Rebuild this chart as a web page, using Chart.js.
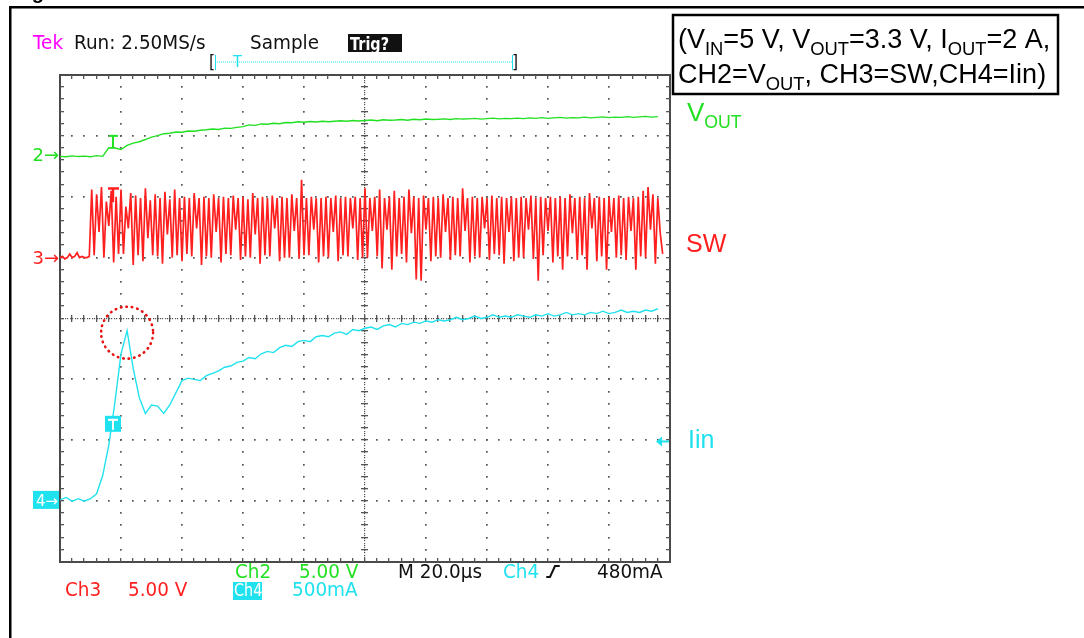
<!DOCTYPE html>
<html>
<head>
<meta charset="utf-8">
<script src="https://cdn.jsdelivr.net/npm/chart.js@4.4.1/dist/chart.umd.min.js"></script>
<style>
  body { margin: 0; background: #fff; }
  #wrap { width: 1084px; height: 638px; }
</style>
</head>
<body>
<div id="wrap"><canvas id="scope" width="1084" height="638"></canvas></div>
<script>
// time base: 20 us/div, 10 div across the screen -> 0..200 us
// Vout (V) and Iin (A) read every 2 us, SW (V) every 0.8 us
const slowStep = 2;
const swStep = 0.8;

const vOut = [
  -0.08, -0.12, -0.04, -0.10, -0.06, -0.12, -0.02, -0.08, 0.62, 0.60,
  0.48, 0.82, 1.00, 1.12, 1.30, 1.50, 1.62, 1.78, 1.82, 1.92,
  1.90, 2.00, 1.98, 2.06, 2.10, 2.16, 2.12, 2.24, 2.22, 2.30,
  2.36, 2.50, 2.46, 2.58, 2.56, 2.64, 2.60, 2.70, 2.68, 2.76,
  2.72, 2.78, 2.74, 2.80, 2.76, 2.80, 2.84, 2.80, 2.86, 2.82,
  2.86, 2.90, 2.84, 2.92, 2.88, 2.90, 2.94, 2.88, 2.96, 2.92,
  2.98, 2.94, 2.96, 3.00, 2.94, 3.02, 2.98, 3.00, 3.04, 2.98,
  3.02, 3.06, 3.00, 3.04, 3.02, 3.06, 3.02, 3.08, 3.04, 3.10,
  3.04, 3.08, 3.12, 3.06, 3.10, 3.08, 3.14, 3.08, 3.12, 3.16,
  3.10, 3.14, 3.12, 3.18, 3.12, 3.16, 3.20, 3.14, 3.18
];

const iIn = [
  0.00, 0.02, -0.01, 0.01, -0.01, 0.01, 0.05, 0.20, 0.45, 0.80,
  1.20, 1.39, 1.08, 0.84, 0.71, 0.78, 0.77, 0.71, 0.78, 0.88,
  0.98, 1.00, 0.99, 0.98, 1.02, 1.04, 1.06, 1.09, 1.10, 1.13,
  1.14, 1.17, 1.16, 1.20, 1.22, 1.21, 1.25, 1.27, 1.26, 1.30,
  1.31, 1.30, 1.34, 1.35, 1.34, 1.37, 1.38, 1.36, 1.40, 1.39,
  1.41, 1.42, 1.40, 1.43, 1.44, 1.42, 1.45, 1.44, 1.46, 1.45,
  1.47, 1.46, 1.48, 1.47, 1.48, 1.50, 1.48, 1.49, 1.51, 1.49,
  1.50, 1.52, 1.50, 1.51, 1.50, 1.52, 1.51, 1.50, 1.52, 1.51,
  1.53, 1.51, 1.52, 1.54, 1.52, 1.53, 1.52, 1.54, 1.53, 1.55,
  1.53, 1.54, 1.56, 1.54, 1.55, 1.54, 1.56, 1.55, 1.57
];

const sw = [
  0.0, 0.1, -0.1, 0.0, 0.3, 0.0, 0.1, 0.4, 0.0, 0.1,
  0.0, 0.0, 0.1, 5.6, 0.2, 5.2, 2.1, 5.8, 0.0, 4.6,
  2.6, 5.5, -0.4, 5.0, 0.3, 5.6, 0.3, 4.2, 2.4, 5.3,
  -0.6, 5.1, 0.2, 4.9, -0.3, 5.7, 1.6, 4.7, 0.2, 5.2,
  0.1, 4.9, -0.5, 5.4, 1.9, 4.8, 0.0, 5.6, 0.2, 4.9,
  -0.3, 5.0, 0.3, 4.9, 0.1, 5.3, 2.4, 4.9, -0.6, 5.0,
  0.1, 4.9, 0.0, 5.2, 2.1, 4.9, -0.4, 5.0, 0.3, 4.9,
  0.2, 5.1, 2.3, 4.9, -0.2, 5.0, 0.1, 4.8, 0.0, 5.3,
  1.9, 4.9, -0.5, 5.0, 0.2, 4.9, 0.1, 5.1, 2.4, 4.9,
  -0.3, 5.0, 0.0, 4.9, 0.0, 5.2, 2.2, 4.9, -0.1, 6.4,
  0.2, 4.9, 0.2, 5.0, 2.3, 4.9, -0.4, 4.9, 0.1, 5.0,
  0.0, 4.9, 2.1, 5.1, -0.3, 4.9, 0.2, 5.0, 0.1, 4.9,
  2.4, 5.0, -0.2, 4.9, 0.0, 5.7, 0.0, 4.9, 2.2, 5.0,
  0.1, 5.6, -0.9, 4.9, 2.3, 5.0, -1.0, 5.5, 0.1, 4.9,
  0.3, 5.0, -0.4, 5.6, 2.0, 5.0, -1.8, 4.9, -1.9, 5.1,
  2.3, 4.9, -0.3, 5.0, 0.1, 4.9, 0.0, 5.2, 2.1, 4.9,
  -0.2, 5.0, 0.2, 4.9, 0.1, 5.7, 2.2, 4.9, -0.4, 5.0,
  0.1, 4.9, 0.0, 5.0, 2.4, 4.9, -0.2, 5.1, 0.3, 4.9,
  0.2, 5.0, -0.5, 4.9, 2.1, 5.0, -0.3, 4.9, 0.0, 5.0,
  0.0, 4.9, 2.3, 5.1, -0.1, 4.9, -1.9, 5.0, 0.2, 4.9,
  2.2, 5.0, -0.4, 4.9, 0.1, 5.0, -1.0, 4.9, 0.1, 5.2,
  2.0, 4.9, -0.2, 5.0, 0.2, 4.9, -1.0, 5.3, 2.4, 4.9,
  -0.3, 5.0, 0.1, 4.9, -1.0, 5.0, 2.1, 4.9, 0.0, 5.1,
  0.2, 4.9, -0.2, 5.0, 2.2, 4.9, -1.0, 5.0, 0.1, 5.5,
  0.0, 5.8, 2.3, 5.2, -0.5, 4.9, 2.0, 0.3
];

// channel settings: screen offset (div) and units per div
const ch2 = { offset: 6.68, perDiv: 5 };    // Vout, 5.00 V
const ch3 = { offset: 5.0, perDiv: 5 };     // SW, 5.00 V
const ch4 = { offset: 1.02, perDiv: 0.5 };  // Iin, 500 mA
const trigLevel = 0.48;   // A
const trigTime = 17.4;    // us

const green = '#22e022';
const red = '#ff1f1f';
const cyan = '#20e2ee';

function toPoints(vals, step, ch) {
  return vals.map((v, i) => ({ x: i * step, y: ch.offset + v / ch.perDiv }));
}

const graticule = {
  id: 'graticule',
  beforeDatasetsDraw(chart) {
    const { ctx, chartArea: a, scales: { x, y } } = chart;
    ctx.save();
    ctx.fillStyle = '#555';
    // dotted major lines
    for (let i = 1; i < 10; i++) {
      if (i === 5) continue;
      const px = Math.round(x.getPixelForValue(i * 20));
      for (let j = 1; j < 40; j++) {
        ctx.fillRect(px - 1, Math.round(y.getPixelForValue(j / 5)) - 1, 1.7, 1.7);
      }
    }
    for (let k = 1; k < 8; k++) {
      if (k === 4) continue;
      const py = Math.round(y.getPixelForValue(k));
      for (let j = 1; j < 50; j++) {
        ctx.fillRect(Math.round(x.getPixelForValue(j * 4)) - 1, py - 1, 1.7, 1.7);
      }
    }
    // centre cross with fine ticks
    const cx = Math.round(x.getPixelForValue(100));
    const cy = Math.round(y.getPixelForValue(4));
    for (let j = 1; j < 200; j++) {
      const py = Math.round(y.getPixelForValue(j / 25));
      ctx.fillRect(cx - 1, py, 1.2, 1.2);
    }
    for (let j = 1; j < 250; j++) {
      const px = Math.round(x.getPixelForValue(j * 0.8));
      ctx.fillRect(px, cy - 1, 1.2, 1.2);
    }
    for (let j = 1; j < 40; j++) {
      const py = Math.round(y.getPixelForValue(j / 5));
      ctx.fillRect(cx - 4, py - 1, 7, 1.3);
    }
    for (let j = 1; j < 50; j++) {
      const px = Math.round(x.getPixelForValue(j * 4));
      ctx.fillRect(px - 1, cy - 4, 1.3, 7);
    }
    // frame with inner ticks
    ctx.strokeStyle = '#4a4a4a';
    ctx.lineWidth = 2;
    ctx.strokeRect(a.left, a.top, a.right - a.left, a.bottom - a.top);
    for (let j = 1; j < 50; j++) {
      const px = Math.round(x.getPixelForValue(j * 4));
      ctx.fillRect(px - 1, a.top, 1.3, 4);
      ctx.fillRect(px - 1, a.bottom - 4, 1.3, 4);
    }
    for (let j = 1; j < 40; j++) {
      const py = Math.round(y.getPixelForValue(j / 5));
      ctx.fillRect(a.left, py - 1, 4, 1.3);
      ctx.fillRect(a.right - 4, py - 1, 4, 1.3);
    }
    ctx.restore();
  }
};

function richText(ctx, x, y, parts, size, color) {
  let cx = x;
  ctx.fillStyle = color;
  ctx.textAlign = 'left';
  ctx.textBaseline = 'alphabetic';
  for (const [txt, sub] of parts) {
    const s = sub ? size * 0.68 : size;
    ctx.font = s + 'px "Liberation Sans", Arial, sans-serif';
    ctx.fillText(txt, cx, sub ? y + size * 0.25 : y);
    cx += ctx.measureText(txt).width;
  }
}

// scope screen font: plain DejaVu squeezed a little
function scopeText(ctx, txt, x, y, size, color, squeeze, weight) {
  ctx.save();
  ctx.font = (weight || '') + ' ' + size + 'px "DejaVu Sans", sans-serif';
  ctx.fillStyle = color;
  ctx.textAlign = 'left';
  ctx.translate(x, y);
  ctx.scale(squeeze || 0.92, 1);
  ctx.fillText(txt, 0, 0);
  ctx.restore();
}

const overlay = {
  id: 'overlay',
  afterDraw(chart) {
    const { ctx, scales: { x, y } } = chart;
    ctx.save();

    // page frame and cut caption
    ctx.fillStyle = '#000';
    ctx.font = 'bold 20px "Liberation Sans", Arial, sans-serif';
    ctx.fillText('Figure', 14, -1);
    ctx.fillRect(9, 6, 1084, 2.5);
    ctx.fillRect(9, 6, 2.5, 638);

    // header
    ctx.textBaseline = 'alphabetic';
    scopeText(ctx, 'Tek', 33, 49, 20, '#ff00ff');
    scopeText(ctx, 'Run: 2.50MS/s', 74, 49, 20, '#111');
    scopeText(ctx, 'Sample', 250, 49, 20, '#111');
    ctx.fillStyle = '#111';
    ctx.fillRect(348, 34, 54, 18);
    scopeText(ctx, 'Trig?', 350, 50, 17, '#fff', 0.85, 'bold');

    // record bracket
    scopeText(ctx, '[', 209, 68, 17, '#111');
    scopeText(ctx, ']', 512, 68, 17, '#111');
    ctx.fillStyle = cyan;
    for (let px = 217; px < 512; px += 2) ctx.fillRect(px, 61.5, 1, 1);
    ctx.fillRect(215, 55, 1, 15);
    ctx.fillRect(512, 55, 1, 15);
    scopeText(ctx, 'T', 233, 67, 16, cyan);

    // channel ground markers
    const y2 = y.getPixelForValue(ch2.offset);
    const y3 = y.getPixelForValue(ch3.offset);
    const y4 = y.getPixelForValue(ch4.offset);
    ctx.font = '18px "DejaVu Sans", sans-serif';
    ctx.textAlign = 'right';
    ctx.fillStyle = green;
    ctx.fillText('2\u2192', 59, y2 + 6);
    ctx.fillStyle = red;
    ctx.fillText('3\u2192', 59, y3 + 6);
    ctx.fillStyle = cyan;
    ctx.fillRect(33, y4 - 9, 26, 18);
    ctx.fillStyle = '#fff';
    ctx.font = '15px "DejaVu Sans", sans-serif';
    ctx.fillText('4\u2192', 58, y4 + 6);

    // trigger markers on the traces
    const tx = Math.round(x.getPixelForValue(trigTime));
    ctx.fillStyle = green;
    const gTop = y.getPixelForValue(7.0);
    ctx.fillRect(tx - 4, gTop - 1, 9, 2);
    ctx.fillRect(tx - 1, gTop, 2, 12);
    ctx.fillRect(tx - 2, gTop + 11, 4, 1.5);
    ctx.fillStyle = red;
    const rTop = y.getPixelForValue(6.14);
    ctx.fillRect(tx - 5, rTop - 1, 11, 2.5);
    ctx.fillRect(tx - 1, rTop, 2.2, 14);
    const cTop = y.getPixelForValue(2.27);
    ctx.fillStyle = cyan;
    ctx.fillRect(tx - 8, cTop - 8, 16, 16);
    ctx.fillStyle = '#fff';
    ctx.fillRect(tx - 5, cTop - 5, 10, 2);
    ctx.fillRect(tx - 1, cTop - 5, 2, 11);

    // trigger level arrow at right edge
    const ty = y.getPixelForValue(ch4.offset + trigLevel / ch4.perDiv);
    ctx.fillStyle = cyan;
    ctx.beginPath();
    ctx.moveTo(656, ty);
    ctx.lineTo(662, ty - 5);
    ctx.lineTo(662, ty + 5);
    ctx.closePath();
    ctx.fill();
    ctx.fillRect(660, ty - 1, 9, 2);

    // red dotted circle around the inrush peak (first local maximum above 1 A)
    const pk = iIn.findIndex((v, i) => i > 0 && v > 1 && v >= iIn[i - 1] && v >= iIn[i + 1]);
    const pcx = x.getPixelForValue(pk * slowStep);
    const pcy = y.getPixelForValue(ch4.offset + iIn[pk] / ch4.perDiv) + 2;
    ctx.strokeStyle = '#e81010';
    ctx.lineWidth = 2.6;
    ctx.lineCap = 'round';
    ctx.setLineDash([0.5, 5]);
    ctx.beginPath();
    ctx.arc(pcx, pcy, 26, 0, Math.PI * 2);
    ctx.stroke();
    ctx.setLineDash([]);

    // bottom readout
    const bs = 20;
    scopeText(ctx, 'Ch2', 235, 578, bs, green);
    scopeText(ctx, '5.00 V', 299, 578, bs, green);
    scopeText(ctx, 'M 20.0\u00b5s', 398, 578, bs, '#111');
    scopeText(ctx, 'Ch4', 503, 578, bs, cyan);
    scopeText(ctx, '480mA', 597, 578, bs, '#111');
    ctx.strokeStyle = '#111';
    ctx.lineWidth = 2;
    ctx.beginPath();
    ctx.moveTo(547, 577);
    ctx.lineTo(550, 577);
    ctx.lineTo(555, 566);
    ctx.lineTo(559, 566);
    ctx.stroke();
    scopeText(ctx, 'Ch3', 65, 596, bs, red);
    scopeText(ctx, '5.00 V', 128, 596, bs, red);
    ctx.fillStyle = cyan;
    ctx.fillRect(233, 582, 29, 18);
    scopeText(ctx, '500mA', 292, 596, bs, cyan);
    scopeText(ctx, 'Ch4', 234, 596, 18, '#fff', 0.8);

    // condition box
    ctx.strokeStyle = '#000';
    ctx.lineWidth = 2.5;
    ctx.strokeRect(673, 15, 385, 79);
    richText(ctx, 678, 48, [['(V'], ['IN', 1], ['=5 V, V'], ['OUT', 1], ['=3.3 V, I'], ['OUT', 1], ['=2 A,']], 27, '#000');
    richText(ctx, 678, 83, [['CH2=V'], ['OUT', 1], [', CH3=SW,CH4=Iin)']], 27, '#000');

    // trace labels
    richText(ctx, 687, 121, [['V'], ['OUT', 1]], 26, green);
    richText(ctx, 686, 252, [['SW']], 25, red);
    richText(ctx, 688, 448, [['Iin']], 25, cyan);

    ctx.restore();
  }
};

new Chart(document.getElementById('scope'), {
  type: 'line',
  data: {
    datasets: [
      { label: 'Iin', data: toPoints(iIn, slowStep, ch4), borderColor: cyan, borderWidth: 1.4, pointRadius: 0, tension: 0 },
      { label: 'VOUT', data: toPoints(vOut, slowStep, ch2), borderColor: green, borderWidth: 1.4, pointRadius: 0, tension: 0 },
      { label: 'SW', data: toPoints(sw, swStep, ch3), borderColor: red, borderWidth: 1.7, pointRadius: 0, tension: 0 }
    ]
  },
  options: {
    responsive: false,
    animation: false,
    layout: { padding: { left: 60, top: 75, right: 414, bottom: 76 } },
    scales: {
      x: { type: 'linear', min: 0, max: 200, display: false },
      y: { type: 'linear', min: 0, max: 8, display: false }
    },
    plugins: { legend: { display: false }, tooltip: { enabled: false } }
  },
  plugins: [graticule, overlay]
});
</script>
</body>
</html>
